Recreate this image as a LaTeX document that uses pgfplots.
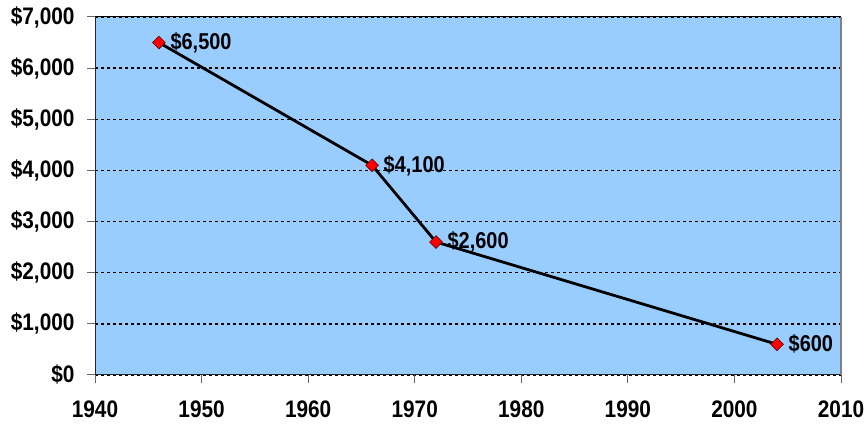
\documentclass[border=0pt]{standalone}
\usepackage{pgfplots}
\pgfplotsset{compat=1.18}
\usepackage{fontspec}
\setmainfont{Liberation Sans}
\newfontfamily\lblfont[FakeStretch=0.87]{Liberation Sans}
\definecolor{plotbg}{HTML}{99CCFF}
\begin{document}
\begin{tikzpicture}
\begin{axis}[
  name=ax,
  at={(0,0)}, anchor=south west,
  scale only axis,
  width=746bp, height=358bp,
  xmin=1940, xmax=2010, ymin=0, ymax=7000,
  xtick={1940,1950,...,2010},
  ytick={0,1000,...,7000},
  axis background/.style={fill=plotbg},
  axis x line*=bottom, axis y line*=left,
  axis line style={black!85, line width=1bp},
  tick style={black!60, line width=1bp},
  tick align=outside,
  major tick length=8bp,
  ymajorgrids,
  grid style={black, line width=1.5bp, dash pattern=on 3bp off 3bp},
  /pgf/number format/assume math mode=true,
  xticklabel style={font=\lblfont\fontsize{24}{26}\selectfont\bfseries, yshift=-14bp},
  yticklabel style={font=\lblfont\fontsize{24}{26}\selectfont\bfseries, xshift=-9bp},
  xticklabel={\pgfmathprintnumber[1000 sep={}]{\tick}},
  yticklabel={\$\pgfmathprintnumber[1000 sep={,}]{\tick}},
  scaled y ticks=false,
  clip=false,
]
\addplot[black, line width=2.8bp,
  mark=square*, mark size=4.5bp,
  mark options={fill=red, draw=black!60!red, line width=0.6bp, solid, rotate=45},
  nodes near coords={\$\pgfmathprintnumber[1000 sep={,}]{\pgfplotspointmeta}},
  point meta=explicit symbolic,
  every node near coord/.append style={anchor=west, xshift=8bp, yshift=0bp,
    font=\lblfont\fontsize{23}{25}\selectfont\bfseries, black},
] table[meta=m] {
x y m
1946 6500 6500
1966 4100 4100
1972 2600 2600
2004 600 600
};
\draw[black, line width=1bp] (rel axis cs:0,1) -- (rel axis cs:1,1);
\draw[gray, line width=1.2bp] (rel axis cs:1,1) -- (rel axis cs:1,0);
\end{axis}
\path ([shift={(-95bp,-53bp)}]ax.south west) rectangle ([shift={(27bp,17bp)}]ax.north east);
\end{tikzpicture}
\end{document}
